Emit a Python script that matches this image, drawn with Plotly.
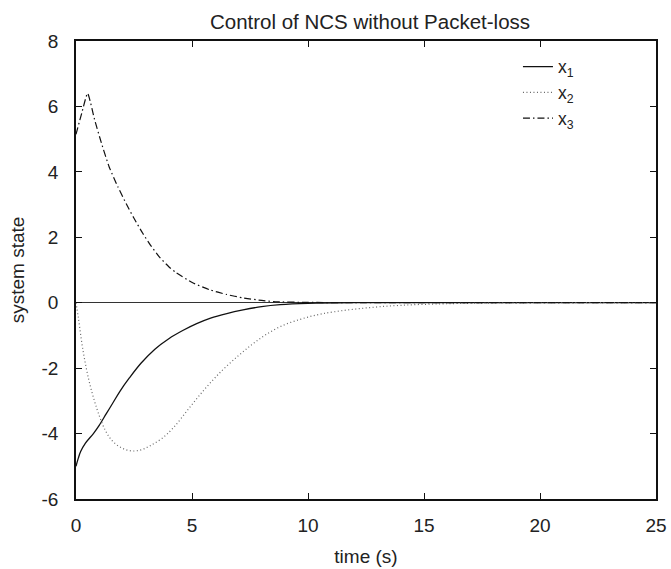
import plotly.graph_objects as go

# ---- data ----
t_x1 = [0, 0.1, 0.2, 0.4, 0.75, 1.0, 1.3, 1.6, 1.9, 2.3, 2.8, 3.4, 4.0, 4.6, 5.2, 5.8, 6.5, 7.2, 8.0, 8.8, 10, 12, 15, 20, 25]
x1 = [-5.0, -4.75, -4.55, -4.3, -4.0, -3.75, -3.4, -3.05, -2.7, -2.3, -1.85, -1.42, -1.1, -0.85, -0.64, -0.47, -0.33, -0.22, -0.12, -0.06, -0.02, 0, 0, 0, 0]

t_x2 = [0, 0.1, 0.3, 0.6, 1.0, 1.3, 1.6, 2.0, 2.4, 2.8, 3.2, 3.7, 4.2, 4.9, 5.6, 6.3, 7.0, 7.6, 8.2, 8.9, 9.7, 10.4, 11.1, 12.5, 14, 16, 18, 20, 25]
x2 = [0, -0.45, -1.45, -2.5, -3.45, -3.95, -4.25, -4.45, -4.53, -4.5, -4.37, -4.15, -3.82, -3.2, -2.6, -2.07, -1.62, -1.27, -0.97, -0.7, -0.5, -0.37, -0.28, -0.16, -0.08, -0.03, -0.01, 0, 0]

t_x3 = [0, 0.25, 0.5, 0.8, 1.1, 1.43, 1.8, 2.16, 2.5, 2.87, 3.2, 3.59, 4.0, 4.31, 5.03, 5.74, 6.5, 7.18, 8.0, 8.6, 10, 12, 15, 20, 25]
x3 = [5.15, 5.8, 6.4, 5.6, 4.87, 4.15, 3.55, 3.03, 2.58, 2.13, 1.77, 1.4, 1.1, 0.92, 0.61, 0.40, 0.25, 0.15, 0.07, 0.03, 0.01, 0, 0, 0, 0]

x_ticks = [0, 5, 10, 15, 20, 25]
y_ticks = [8, 6, 4, 2, 0, -2, -4, -6]
y_tick_text = ["8", "6", "4", "2", "0", "-2", "-4", "-6"]

title_text = "Control of NCS without Packet-loss"
x_title = "time (s)"
y_title = "system state"
names = ["x<sub>1</sub>", "x<sub>2</sub>", "x<sub>3</sub>"]

FONT = "Liberation Sans, Arial, Helvetica, sans-serif"

fig = go.Figure()
fig.add_trace(go.Scatter(x=t_x1, y=x1, mode="lines", name=names[0],
                         line=dict(color="#111111", width=1.3, shape="spline", smoothing=1.0)))
fig.add_trace(go.Scatter(x=t_x2, y=x2, mode="lines", name=names[1],
                         line=dict(color="#666666", width=1.2, dash="1px,2.5px", shape="spline", smoothing=1.0)))
fig.add_trace(go.Scatter(x=t_x3, y=x3, mode="lines", name=names[2],
                         line=dict(color="#111111", width=1.2, dash="7px,3px,1.5px,3px",
                                   shape="spline", smoothing=0.5)))

fig.update_layout(
    width=671, height=569,
    margin=dict(l=76, r=15, t=41, b=70, autoexpand=False),
    paper_bgcolor="white", plot_bgcolor="white",
    font=dict(family=FONT, size=19, color="#222222"),
    title=dict(text=title_text, x=370 / 671, xanchor="center",
               y=1 - 22 / 569, yanchor="middle", font=dict(size=20.5)),
    showlegend=True,
    legend=dict(x=0.762, y=0.983, xanchor="left", yanchor="top",
                bgcolor="rgba(0,0,0,0)", borderwidth=0,
                font=dict(size=17.5), tracegroupgap=0),
    xaxis=dict(range=[0, 25], tickvals=x_ticks, ticks="inside", ticklen=6,
               tickcolor="#111111", showline=True, linecolor="#111111", linewidth=1.6,
               mirror="ticks", showgrid=False, zeroline=False, automargin=False,
               ticklabelstandoff=8,
               title=dict(text=x_title, standoff=15, font=dict(size=19))),
    yaxis=dict(range=[-6, 8], tickvals=y_ticks, ticktext=y_tick_text, ticks="inside",
               ticklen=6, tickcolor="#111111", showline=True, linecolor="#111111",
               linewidth=1.6, mirror="ticks", showgrid=False, automargin=False,
               zeroline=True, zerolinecolor="#333333", zerolinewidth=1.2,
               ticklabelstandoff=12,
               title=dict(text=y_title, standoff=12, font=dict(size=19))),
)

fig.write_html("out.html")
